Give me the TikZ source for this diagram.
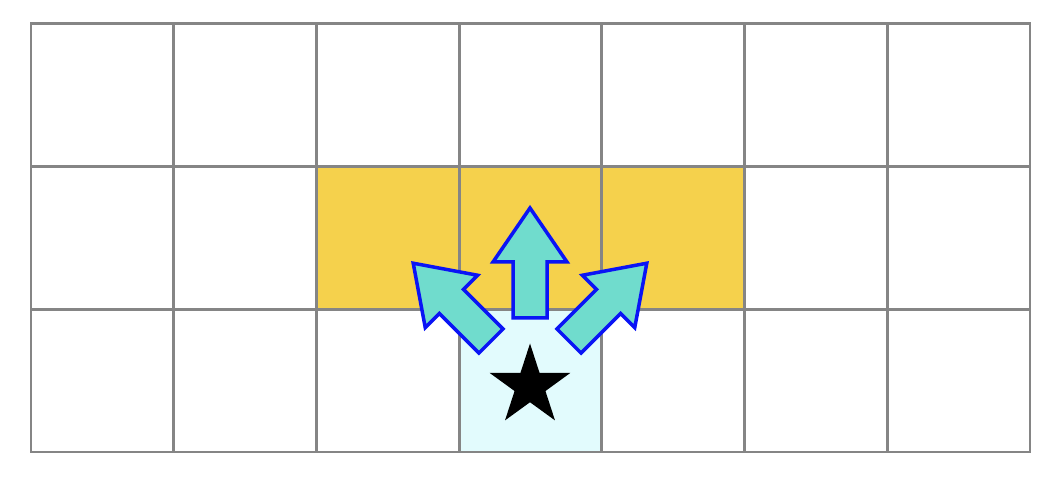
\documentclass[tikz,border=0pt]{standalone}
\usetikzlibrary{shapes.geometric}
\definecolor{gridgray}{HTML}{858585}
\definecolor{cellyellow}{HTML}{F5D14C}
\definecolor{cellcyan}{HTML}{E2FBFD}
\definecolor{arrowfill}{HTML}{70DCCD}
\definecolor{arrowline}{HTML}{0A14F5}
\tikzset{
  gridline/.style={draw=gridgray, line width=2.8pt},
  bigarrow/.style={fill=arrowfill, draw=arrowline, line width=3.5pt, line join=miter},
}
\begin{document}
\begin{tikzpicture}[x=1pt,y=1pt]
\useasboundingbox (0,0) rectangle (1052,482);
\def\s{142.7}
% filled cells
\fill[cellyellow] (31+2*\s,30+\s) rectangle (31+5*\s,30+2*\s);
\fill[cellcyan] (31+3*\s,30) rectangle (31+4*\s,30+\s);
% grid
\foreach \i in {0,...,7} {\draw[gridline] (31+\i*\s,30) -- (31+\i*\s,30+3*\s);}
\foreach \j in {0,...,3} {\draw[gridline] (31,30+\j*\s) -- (31+7*\s,30+\j*\s);}
\draw[gridline, line join=miter] (31,30) rectangle (31+7*\s,30+3*\s);
% star
\node[star, star points=5, star point ratio=2.618, fill=black, inner sep=0pt, minimum size=85pt] (goal) at (530,96) {};
% arrows
\foreach \px/\py/\ang/\nm in {530/164/0/up, 491/141/45/left, 569/141/-45/right} {
  \begin{scope}[shift={(\px,\py)}, rotate=\ang]
    \draw[bigarrow] (-17,0) -- (-17,56) -- (-37,56) -- (0,110) -- (37,56) -- (17,56) -- (17,0) -- cycle;
    \coordinate (\nm) at (0,110);
  \end{scope}
}
\end{tikzpicture}
\end{document}
